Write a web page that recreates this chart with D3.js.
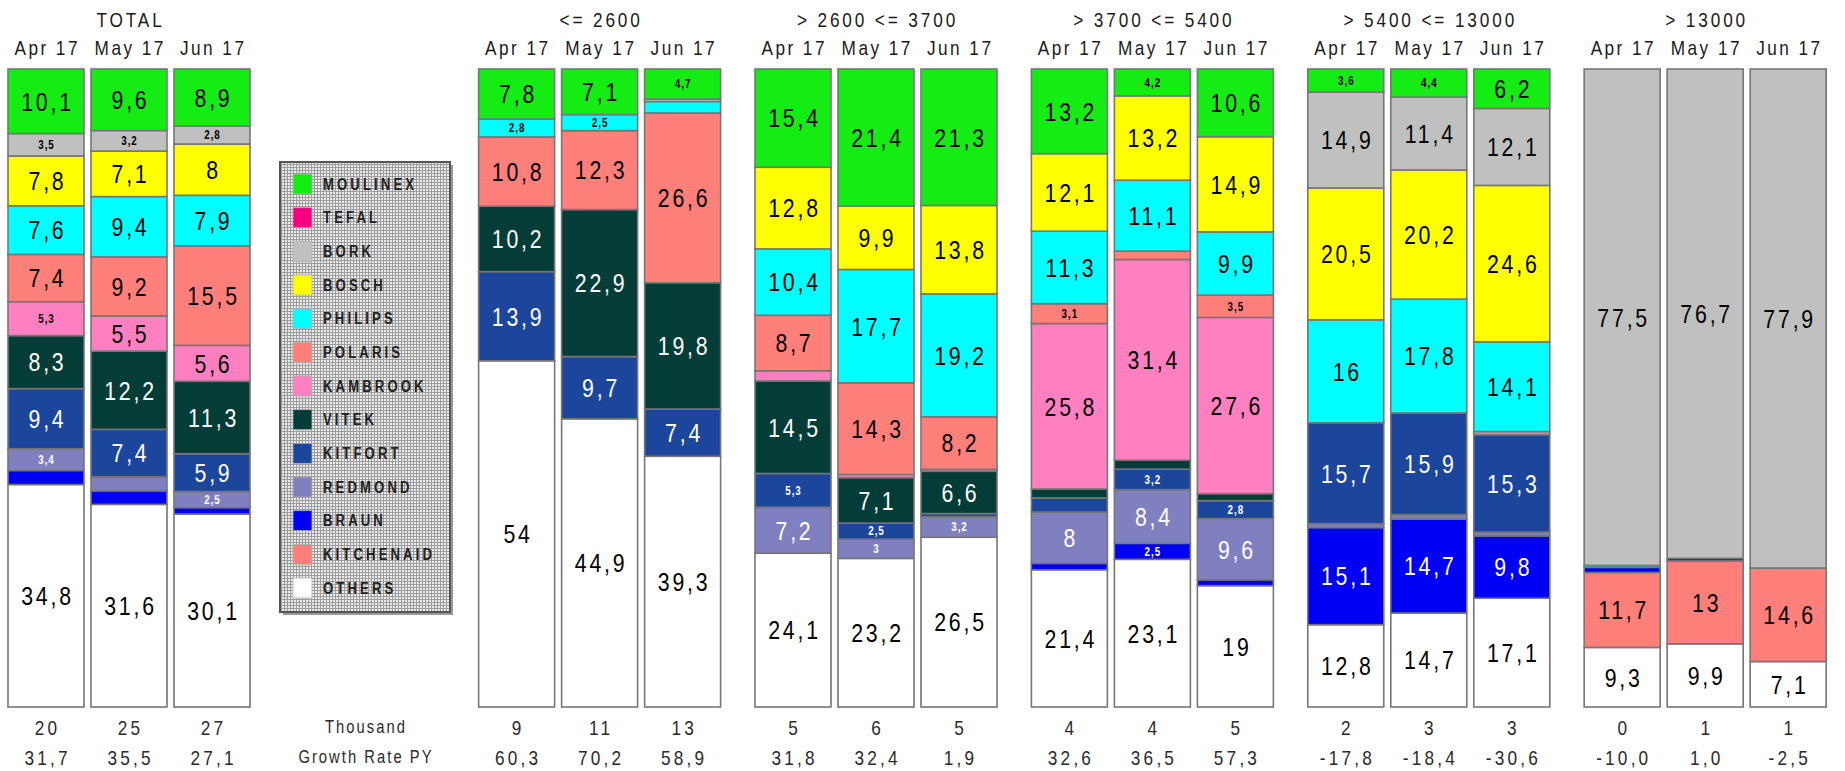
<!DOCTYPE html>
<html>
<head>
<meta charset="utf-8">
<script src="https://cdn.jsdelivr.net/npm/d3@7"></script>
<style>
  html, body { margin: 0; padding: 0; background: #ffffff; }
  svg { display: block; }
  text { font-family: "Liberation Sans", Arial, sans-serif; }
</style>
</head>
<body>
<svg id="chart" width="1845" height="771"></svg>
<script>
// ---------------- DATA ----------------
const groups = ["TOTAL", "<= 2600", "> 2600 <= 3700", "> 3700 <= 5400", "> 5400 <= 13000", "> 13000"];
const months = ["Apr 17", "May 17", "Jun 17"];
const brands = ["MOULINEX", "TEFAL", "BORK", "BOSCH", "PHILIPS", "POLARIS", "KAMBROOK",
                "VITEK", "KITFORT", "REDMOND", "BRAUN", "KITCHENAID", "OTHERS"];

// values per column: TOTAL(A,M,J), <=2600(A,M,J), >2600<=3700(A,M,J), >3700<=5400(A,M,J), >5400<=13000(A,M,J), >13000(A,M,J)
const moulinex   = [10.1, 9.6, 8.9,   7.8, 7.1, 4.7,   15.4, 21.4, 21.3,  13.2, 4.2, 10.6,  3.6, 4.4, 6.2,   0, 0, 0];
const tefal      = [0, 0, 0,          0, 0, 0,         0, 0, 0,           0, 0, 0,         0, 0, 0,         0, 0, 0];
const bork       = [3.5, 3.2, 2.8,    0, 0, 0.4,       0, 0, 0,           0, 0, 0,         14.9, 11.4, 12.1, 77.5, 76.7, 77.9];
const bosch      = [7.8, 7.1, 8,      0, 0, 0,         12.8, 9.9, 13.8,   12.1, 13.2, 14.9, 20.5, 20.2, 24.6, 0, 0, 0];
const philips    = [7.6, 9.4, 7.9,    2.8, 2.5, 1.8,   10.4, 17.7, 19.2,  11.3, 11.1, 9.9, 16, 17.8, 14.1,  0.3, 0, 0];
const polaris    = [7.4, 9.2, 15.5,   10.8, 12.3, 26.6, 8.7, 14.3, 8.2,   3.1, 1.3, 3.5,   0, 0, 0,         0, 0, 0];
const kambrook   = [5.3, 5.5, 5.6,    0, 0, 0,         1.6, 0.5, 0.3,     25.8, 31.4, 27.6, 0, 0, 0.5,      0, 0, 0];
const vitek      = [8.3, 12.2, 11.3,  10.2, 22.9, 19.8, 14.5, 7.1, 6.6,   1.4, 1.4, 1.1,   0, 0, 0,         0, 0.4, 0];
const kitfort    = [9.4, 7.4, 5.9,    13.9, 9.7, 7.4,  5.3, 2.5, 0.5,     2.2, 3.2, 2.8,   15.7, 15.9, 15.3, 0, 0, 0];
const redmond    = [3.4, 2.2, 2.5,    0, 0, 0,         7.2, 3, 3.2,       8, 8.4, 9.6,     0.6, 0.7, 0.6,   0, 0, 0];
const braun      = [2.2, 2.1, 1,      0, 0, 0,         0, 0, 0,           1, 2.5, 0.9,     15.1, 14.7, 9.8, 0.8, 0, 0];
const kitchenaid = [0, 0, 0,          0, 0, 0,         0, 0, 0,           0, 0, 0,         0, 0, 0,         11.7, 13, 14.6];
const others     = [34.8, 31.6, 30.1, 54, 44.9, 39.3,  24.1, 23.2, 26.5,  21.4, 23.1, 19,  12.8, 14.7, 17.1, 9.3, 9.9, 7.1];

const thousand = [20, 25, 27,  9, 11, 13,  5, 6, 5,  4, 4, 5,  2, 3, 3,  0, 1, 1];
const growth   = [31.7, 35.5, 27.1,  60.3, 70.2, 58.9,  31.8, 32.4, 1.9,  32.6, 36.5, 57.3,  -17.8, -18.4, -30.6,  -10.0, 1.0, -2.5];

const rowLabels = ["Thousand", "Growth Rate PY"];

// ---------------- STYLE ----------------
const colors = {
  MOULINEX: "#14ec14", TEFAL: "#f5007e", BORK: "#c0c0c0", BOSCH: "#ffff00",
  PHILIPS: "#00ffff", POLARIS: "#ff7f7a", KAMBROOK: "#ff80c0", VITEK: "#043c37",
  KITFORT: "#1c459c", REDMOND: "#8080c0", BRAUN: "#0000f5", KITCHENAID: "#ff7f7a",
  OTHERS: "#ffffff"
};
const whiteText = new Set(["VITEK", "KITFORT", "REDMOND", "BRAUN"]);
const NARROW = 0.82;

const seriesByBrand = {
  MOULINEX: moulinex, TEFAL: tefal, BORK: bork, BOSCH: bosch, PHILIPS: philips,
  POLARIS: polaris, KAMBROOK: kambrook, VITEK: vitek, KITFORT: kitfort,
  REDMOND: redmond, BRAUN: braun, KITCHENAID: kitchenaid, OTHERS: others
};

// ---------------- BUILD ROWS ----------------
const rows = [];
groups.forEach((g, gi) => {
  months.forEach((m, mi) => {
    const i = gi * months.length + mi;
    const r = { group: g, gi, month: m, mi, i };
    brands.forEach(b => { r[b] = seriesByBrand[b][i]; });
    rows.push(r);
  });
});

const stackKeys = brands.slice().reverse();
const stack = d3.stack().keys(stackKeys).offset(d3.stackOffsetExpand);
const stacked = stack(rows);

// ---------------- LAYOUT ----------------
const svg = d3.select("#chart");
const legendGapUnits = 3.67;
const groupGapUnits = 1.33;
function colUnit(gi, mi) {
  if (gi === 0) return mi;
  return (2 + legendGapUnits) + (gi - 1) * (2 + groupGapUnits) + mi;
}
const x = d3.scaleLinear().domain([0, 1]).range([8, 91]);
const barW = 76;
const y = d3.scaleLinear().domain([0, 1]).range([707, 69]);

const fmt = v => String(v).replace(".", ",");
const fmt1 = v => d3.format(".1f")(v).replace("\u2212", "-").replace(".", ",");

function ntext(sel, tx, ty, str, size, ls, anchor) {
  return sel.append("text")
    .attr("transform", `translate(${tx},${ty}) scale(${NARROW},1)`)
    .attr("dy", "0.36em")
    .attr("text-anchor", anchor || "middle")
    .attr("font-size", size)
    .attr("letter-spacing", ls)
    .text(str);
}

// ---------------- BARS ----------------
const layer = svg.append("g");
stacked.forEach(s => {
  const key = s.key;
  s.forEach((d, idx) => {
    const row = rows[idx];
    const v = row[key];
    if (!(v > 0)) return;
    const x0 = x(colUnit(row.gi, row.mi));
    layer.append("rect")
      .attr("x", x0)
      .attr("y", y(d[1]))
      .attr("width", barW)
      .attr("height", Math.max(0, y(d[0]) - y(d[1])))
      .attr("fill", colors[key])
      .attr("stroke", "#767676")
      .attr("stroke-width", 1.6);
  });
});

// labels
const labelLayer = svg.append("g");
stacked.forEach(s => {
  const key = s.key;
  s.forEach((d, idx) => {
    const row = rows[idx];
    const v = row[key];
    if (!(v >= 2.5)) return;
    const cx = x(colUnit(row.gi, row.mi)) + barW / 2;
    const cy = (y(d[0]) + y(d[1])) / 2;
    const small = v < 5.4;
    ntext(labelLayer, cx + (small ? 0.5 : 1.5), cy, fmt(v), small ? 12 : 26, small ? 1.2 : 3.4)
      .attr("font-weight", small ? "bold" : "normal")
      .attr("fill", whiteText.has(key) ? "#ffffff" : "#000000");
  });
});

// ---------------- HEADERS ----------------
const headLayer = svg.append("g").attr("fill", "#1a1a1a");
groups.forEach((g, gi) => {
  const cx = (x(colUnit(gi, 0)) + x(colUnit(gi, 2)) + barW) / 2;
  ntext(headLayer, cx + 1.5, 19, g, 21, 3.5);
  months.forEach((m, mi) => {
    ntext(headLayer, x(colUnit(gi, mi)) + barW / 2 + 1.2, 47, m, 21, 3);
  });
});

// ---------------- BOTTOM ROWS ----------------
const botLayer = svg.append("g").attr("fill", "#2a2a2a");
rows.forEach(r => {
  const cx = x(colUnit(r.gi, r.mi)) + barW / 2 + 1.6;
  ntext(botLayer, cx, 727, String(thousand[r.i]), 21, 3.9);
  ntext(botLayer, cx, 757, fmt1(growth[r.i]), 21, 3.9);
});
const midX = 366;
rowLabels.forEach((t, k) => {
  ntext(botLayer, midX, 727 + k * 30, t, 18, 2.5);
});

// ---------------- LEGEND ----------------
const defs = svg.append("defs");
const pat = defs.append("pattern").attr("id", "dots")
  .attr("width", 3).attr("height", 3).attr("patternUnits", "userSpaceOnUse");
pat.append("rect").attr("width", 3).attr("height", 3).attr("fill", "#9c9c9c");
pat.append("rect").attr("width", 2).attr("height", 2).attr("fill", "#ebebeb");

const lg = svg.append("g");
lg.append("rect").attr("x", 283).attr("y", 165).attr("width", 170).attr("height", 450).attr("fill", "#9a9a9a");
lg.append("rect").attr("x", 280).attr("y", 162).attr("width", 170).attr("height", 450)
  .attr("fill", "url(#dots)").attr("stroke", "#555555").attr("stroke-width", 2);
const ly = d3.scalePoint().domain(brands).range([184, 588]);
brands.forEach(b => {
  lg.append("rect").attr("x", 293).attr("y", ly(b) - 10).attr("width", 19).attr("height", 20)
    .attr("fill", colors[b]).attr("stroke", "#b0b0b0").attr("stroke-width", 0.8);
  ntext(lg, 323, ly(b), b, 16, 3.8, "start").attr("fill", "#222222").attr("font-weight", "bold");
});
</script>
</body>
</html>
